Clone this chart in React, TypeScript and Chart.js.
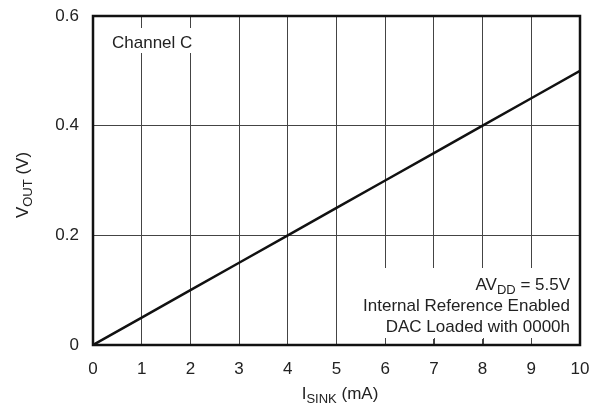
import React, { useEffect, useRef } from "react";
import { Chart, registerables } from "chart.js";

Chart.register(...registerables);

const xValues = [0, 1, 2, 3, 4, 5, 6, 7, 8, 9, 10];
const vout = [0, 0.05, 0.1, 0.15, 0.2, 0.25, 0.3, 0.35, 0.4, 0.45, 0.5];
const xTicks = [0, 1, 2, 3, 4, 5, 6, 7, 8, 9, 10];
const yTicks = [0, 0.2, 0.4, 0.6];
const channelLabel = "Channel C";
const noteLines = ["Internal Reference Enabled", "DAC Loaded with 0000h"];

const FONT = '"Liberation Sans", Arial, Helvetica, sans-serif';
const FS = 17;

function drawSubText(
  ctx: CanvasRenderingContext2D,
  parts: { t: string; sub?: boolean }[],
  x: number,
  y: number,
  align: "left" | "center" | "right",
  size: number
) {
  const subSize = Math.round(size * 0.76);
  let total = 0;
  const widths = parts.map((p) => {
    ctx.font = `${p.sub ? subSize : size}px ${FONT}`;
    const w = ctx.measureText(p.t).width;
    total += w;
    return w;
  });
  let cx = align === "left" ? x : align === "center" ? x - total / 2 : x - total;
  ctx.textAlign = "left";
  ctx.textBaseline = "alphabetic";
  parts.forEach((p, i) => {
    ctx.font = `${p.sub ? subSize : size}px ${FONT}`;
    ctx.fillText(p.t, cx, p.sub ? y + 4 : y);
    cx += widths[i];
  });
}

const overlay = {
  id: "overlay",
  beforeDatasetsDraw(chart: any) {
    const { ctx, chartArea, scales } = chart;
    const xs = scales.x;
    ctx.save();
    ctx.fillStyle = "#ffffff";
    // box behind Channel C
    ctx.fillRect(chartArea.left + 10, 28, 110, 25);
    // box behind notes
    const bx = xs.getPixelForValue(5.25);
    ctx.fillRect(bx, 268, chartArea.right - bx - 1, 71);
    // inward ticks at the bottom
    ctx.strokeStyle = "#444";
    ctx.lineWidth = 1;
    for (const v of xTicks) {
      if (v <= 5 || v >= 10) continue;
      const px = Math.round(xs.getPixelForValue(v)) + 0.5;
      ctx.beginPath();
      ctx.moveTo(px, chartArea.bottom);
      ctx.lineTo(px, chartArea.bottom - 7);
      ctx.stroke();
    }
    ctx.fillStyle = "#222";
    ctx.font = `${FS}px ${FONT}`;
    ctx.textAlign = "left";
    ctx.textBaseline = "alphabetic";
    ctx.fillText(channelLabel, 112, 48);
    drawSubText(ctx, [{ t: "AV" }, { t: "DD", sub: true }, { t: " = 5.5V" }], 570, 290, "right", FS);
    ctx.textAlign = "right";
    ctx.font = `${FS}px ${FONT}`;
    ctx.fillText(noteLines[0], 570, 311);
    ctx.fillText(noteLines[1], 570, 332);
    ctx.restore();
  },
  afterDraw(chart: any) {
    const { ctx, chartArea } = chart;
    ctx.save();
    ctx.strokeStyle = "#111";
    ctx.lineWidth = 2.5;
    ctx.strokeRect(chartArea.left, chartArea.top, chartArea.right - chartArea.left, chartArea.bottom - chartArea.top);
    ctx.fillStyle = "#222";
    drawSubText(ctx, [{ t: "I" }, { t: "SINK", sub: true }, { t: " (mA)" }], 340, 399, "center", FS);
    ctx.translate(28, 185);
    ctx.rotate(-Math.PI / 2);
    drawSubText(ctx, [{ t: "V" }, { t: "OUT", sub: true }, { t: " (V)" }], 0, 0, "center", FS);
    ctx.restore();
  },
};

export default function App() {
  const ref = useRef<HTMLCanvasElement>(null);
  useEffect(() => {
    document.body.style.margin = "0";
    const chart = new Chart(ref.current!, {
      type: "line",
      data: {
        datasets: [
          {
            data: xValues.map((x, i) => ({ x, y: vout[i] })),
            borderColor: "#111",
            borderWidth: 2.5,
            pointRadius: 0,
            tension: 0,
          },
        ],
      },
      options: {
        animation: false,
        responsive: false,
        maintainAspectRatio: false,
        layout: { padding: { left: 0, top: 16, right: 13, bottom: 0 } },
        plugins: { legend: { display: false }, tooltip: { enabled: false } },
        scales: {
          x: {
            type: "linear",
            min: 0,
            max: 10,
            afterFit: (s: any) => {
              s.height = 67;
              s.paddingLeft = 0;
              s.paddingRight = 0;
            },
            afterBuildTicks: (s: any) => {
              s.ticks = xTicks.map((v) => ({ value: v }));
            },
            grid: { color: "#444", lineWidth: 1, drawTicks: false },
            border: { display: false },
            ticks: {
              padding: 14,
              color: "#222",
              font: { family: FONT, size: FS },
              callback: (v: any) => String(v),
            },
          },
          y: {
            type: "linear",
            min: 0,
            max: 0.6,
            afterFit: (s: any) => {
              s.width = 93;
              s.paddingTop = 0;
              s.paddingBottom = 0;
            },
            afterBuildTicks: (s: any) => {
              s.ticks = yTicks.map((v) => ({ value: v }));
            },
            grid: { color: "#444", lineWidth: 1, drawTicks: false },
            border: { display: false },
            ticks: {
              padding: 14,
              color: "#222",
              font: { family: FONT, size: FS },
              callback: (v: any) => (Number(v) === 0 ? "0" : Number(v).toFixed(1)),
            },
          },
        },
      },
      plugins: [overlay],
    });
    return () => chart.destroy();
  }, []);
  return <canvas ref={ref} width={593} height={412} style={{ display: "block" }} />;
}
